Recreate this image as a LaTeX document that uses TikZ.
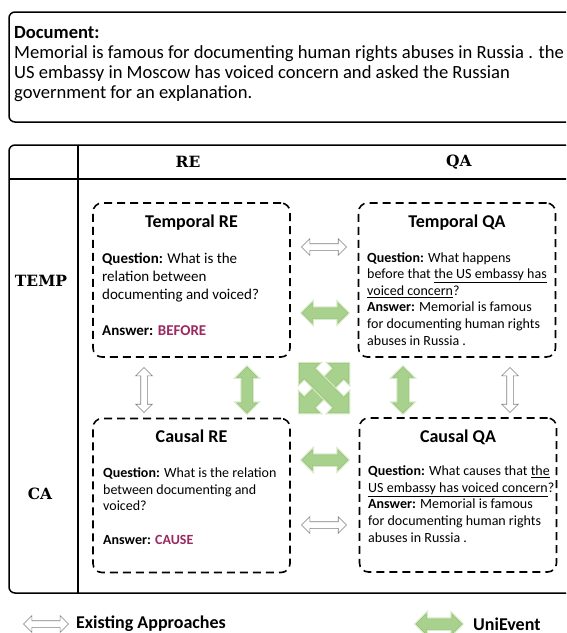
\documentclass[tikz,border=0pt]{standalone}
\usepackage{fontspec}
\setmainfont{Carlito}
\newfontfamily\hdrfont{DejaVu Serif}
\usetikzlibrary{shapes.arrows,positioning}
\definecolor{uegreen}{HTML}{A9D18E}
\definecolor{ueedge}{HTML}{93C073}
\definecolor{ueglow}{HTML}{D6EBC8}
\definecolor{uegray}{HTML}{7F7F7F}
\definecolor{ueans}{HTML}{9B2860}
\tikzset{
  taskbox/.style={draw=black,line width=1.6pt,dash pattern=on 8pt off 5pt,
              rounded corners=9pt,minimum width=197pt,minimum height=154pt,inner sep=0pt},
  tasktitle/.style={font=\fontsize{18}{21}\selectfont\bfseries,anchor=base,inner sep=0pt},
  % base anchor of a multi-line node = baseline of its last line
  taskbody/.style={align=left,anchor=base west,inner sep=0pt},
  oldarr/.style={double arrow,draw=uegray,fill=white,line width=0.6pt,
              inner xsep=0pt,inner ysep=3pt,double arrow head extend=5pt,minimum height=45pt},
  uniarr/.style={double arrow,draw=ueedge,fill=uegreen,line width=0.5pt,
              preaction={draw=ueglow,line width=3pt},
              inner xsep=0pt,inner ysep=5pt,double arrow head extend=5pt,minimum height=46pt},
  hdr/.style={font=\hdrfont\bfseries\fontsize{15.5}{18}\selectfont,inner sep=0pt},
  legtext/.style={font=\fontsize{18}{21}\selectfont\bfseries,anchor=west,inner sep=0pt},
}
\begin{document}
\begin{tikzpicture}[x=1pt,y=-1pt]
  \useasboundingbox (0,0) rectangle (566,633);
  \clip (0,0) rectangle (566,633);

  % ---------- document ----------
  \draw[line width=1.5pt,rounded corners=6pt] (9,12) rectangle (600,122);
  \node[taskbody,font=\fontsize{18.6}{20}\selectfont] (doc) at (14,98)
    {\textbf{Document:}\\
     Memorial is famous for documenting human rights abuses in Russia . the\\
     US embassy in Moscow has voiced concern and asked the Russian\\
     government for an explanation.};

  % ---------- table frame ----------
  \draw[line width=1.5pt,rounded corners=6pt] (9,145) rectangle (600,593);
  \draw[line width=1.5pt] (9,179) -- (600,179);
  \draw[line width=1.5pt] (78,145) -- (78,593);
  \node[hdr] (hre)   at (188,162) {RE};
  \node[hdr] (hqa)   at (459,162) {QA};
  \node[hdr] (htemp) at (41,281) {TEMP};
  \node[hdr] (hca)   at (40,494) {CA};

  % ---------- task boxes ----------
  \node[taskbox] (tre) at (191.5,280) {};
  \node[taskbox] (tqa) at (457,280) {};
  \node[taskbox] (cre) at (191.5,495.5) {};
  \node[taskbox] (cqa) at (458,495) {};

  \node[tasktitle] (treT) at (191.5,227) {Temporal RE};
  \node[tasktitle] (tqaT) at (457,227) {Temporal QA};
  \node[tasktitle] (creT) at (191.5,442) {Causal RE};
  \node[tasktitle] (cqaT) at (458,442) {Causal QA};

  \node[taskbody,font=\fontsize{15}{18}\selectfont] (treB) at (102,335)
    {\textbf{Question:} What is the\\relation between\\documenting and voiced?\\[18pt]
     \textbf{Answer:} \textcolor{ueans}{\textbf{BEFORE}}};
  \node[taskbody,font=\fontsize{14}{16.6}\selectfont] (tqaB) at (367,345)
    {\textbf{Question:} What happens\\before that \underline{the US embassy has}\\
     \underline{voiced concern}?\\\textbf{Answer:} Memorial is famous\\
     for documenting human rights\\abuses in Russia .};
  \node[taskbody,font=\fontsize{14}{16.6}\selectfont] (creB) at (103,544)
    {\textbf{Question:} What is the relation\\between documenting and\\voiced?\\[16.6pt]
     \textbf{Answer:} \textcolor{ueans}{\textbf{CAUSE}}};
  \node[taskbody,font=\fontsize{14}{16.6}\selectfont] (cqaB) at (368,542)
    {\textbf{Question:} What causes that \underline{the}\\
     \underline{US embassy has voiced concern}?\\\textbf{Answer:} Memorial is famous\\
     for documenting human rights\\abuses in Russia .};

  % ---------- transfer arrows ----------
  \node[oldarr] (tlink)  at (324,247) {};
  \node[uniarr] (tlinku) at (325,313) {};
  \node[uniarr] (clinku) at (325,460) {};
  \node[oldarr] (clink)  at (324,525) {};
  \node[oldarr,rotate=90] (relink)  at (144,390) {};
  \node[uniarr,rotate=90] (relinku) at (247,390) {};
  \node[uniarr,rotate=90] (qalinku) at (403,390) {};
  \node[oldarr,rotate=90] (qalink)  at (510,390) {};
  \node[uniarr,rotate=45,minimum height=70pt,inner ysep=7pt,
        double arrow head extend=7pt] (xlinka) at (324,388) {};
  \node[uniarr,rotate=-45,minimum height=70pt,inner ysep=7pt,
        double arrow head extend=7pt] (xlinkb) at (324,388) {};

  % ---------- legend ----------
  \node[oldarr] (legold) at (46,624) {};
  \node[legtext] (legoldT) at (76,624) {Existing Approaches};
  \node[uniarr] (leguni) at (439,624) {};
  \node[legtext] (leguniT) at (473,624) {UniEvent};
\end{tikzpicture}
\end{document}
